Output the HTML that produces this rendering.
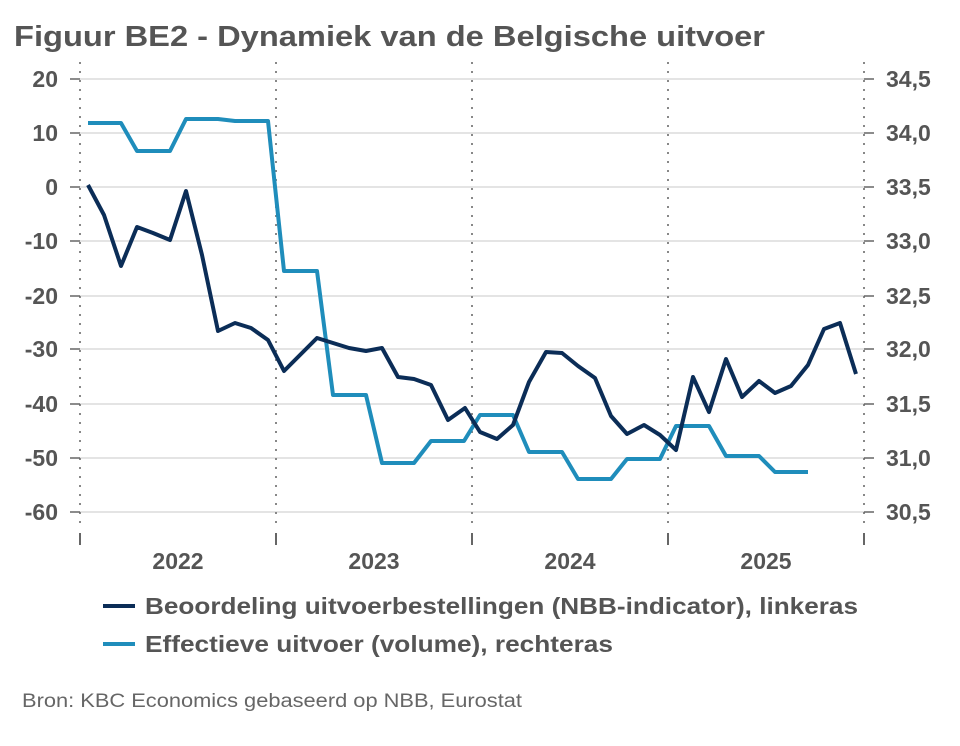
<!DOCTYPE html>
<html><head><meta charset="utf-8"><style>
body{margin:0;background:#fff;}
svg text{font-family:"Liberation Sans",sans-serif;}
</style></head><body>
<svg width="960" height="741" xmlns="http://www.w3.org/2000/svg">
<rect width="960" height="741" fill="#fff"/>
<text x="14" y="46" font-size="29" font-weight="bold" fill="#555" textLength="751" lengthAdjust="spacingAndGlyphs">Figuur BE2 - Dynamiek van de Belgische uitvoer</text>
<g stroke="#dcdcdc" stroke-width="1.5">
<line x1="80" x2="864" y1="79" y2="79"/><line x1="80" x2="864" y1="133" y2="133"/>
<line x1="80" x2="864" y1="187" y2="187"/><line x1="80" x2="864" y1="241" y2="241"/>
<line x1="80" x2="864" y1="296" y2="296"/><line x1="80" x2="864" y1="349" y2="349"/>
<line x1="80" x2="864" y1="404" y2="404"/><line x1="80" x2="864" y1="458" y2="458"/>
<line x1="80" x2="864" y1="512" y2="512"/>
</g>
<g stroke="#888" stroke-width="2" stroke-dasharray="2,7">
<line x1="80" x2="80" y1="62" y2="530"/><line x1="276" x2="276" y1="62" y2="530"/>
<line x1="472" x2="472" y1="62" y2="530"/><line x1="668" x2="668" y1="62" y2="530"/>
<line x1="864" x2="864" y1="62" y2="530"/>
</g>
<g stroke="#666" stroke-width="2">
<line x1="80" x2="80" y1="533" y2="545"/><line x1="276" x2="276" y1="533" y2="545"/>
<line x1="472" x2="472" y1="533" y2="545"/><line x1="668" x2="668" y1="533" y2="545"/>
<line x1="864" x2="864" y1="533" y2="545"/>
<g stroke-width="1.5">
<line x1="70" x2="80" y1="79" y2="79"/><line x1="70" x2="80" y1="133" y2="133"/><line x1="70" x2="80" y1="187" y2="187"/><line x1="70" x2="80" y1="241" y2="241"/><line x1="70" x2="80" y1="296" y2="296"/><line x1="70" x2="80" y1="349" y2="349"/><line x1="70" x2="80" y1="404" y2="404"/><line x1="70" x2="80" y1="458" y2="458"/><line x1="70" x2="80" y1="512" y2="512"/>
<line x1="864" x2="874" y1="79" y2="79"/><line x1="864" x2="874" y1="133" y2="133"/><line x1="864" x2="874" y1="187" y2="187"/><line x1="864" x2="874" y1="241" y2="241"/><line x1="864" x2="874" y1="296" y2="296"/><line x1="864" x2="874" y1="349" y2="349"/><line x1="864" x2="874" y1="404" y2="404"/><line x1="864" x2="874" y1="458" y2="458"/><line x1="864" x2="874" y1="512" y2="512"/>
</g></g>
<g font-size="23" font-weight="bold" fill="#555" text-anchor="end">
<text x="58" y="87">20</text><text x="58" y="141">10</text><text x="58" y="195">0</text><text x="58" y="249">-10</text><text x="58" y="304">-20</text><text x="58" y="357">-30</text><text x="58" y="412">-40</text><text x="58" y="466">-50</text><text x="58" y="520">-60</text>
</g>
<g font-size="23" font-weight="bold" fill="#555">
<text x="886" y="87">34,5</text><text x="886" y="141">34,0</text><text x="886" y="195">33,5</text><text x="886" y="249">33,0</text><text x="886" y="304">32,5</text><text x="886" y="357">32,0</text><text x="886" y="412">31,5</text><text x="886" y="466">31,0</text><text x="886" y="520">30,5</text>
</g>
<g font-size="23" font-weight="bold" fill="#555" text-anchor="middle">
<text x="178" y="569">2022</text><text x="374" y="569">2023</text><text x="570" y="569">2024</text><text x="766" y="569">2025</text>
</g>
<polyline fill="none" stroke="#1f8dbb" stroke-width="4" stroke-linejoin="round" points="88,123 121,123 137,151 170,151 186,119 218,119 235,121 268,121 284,271 317,271 333,395 366,395 382,463 414,463 431,441 464,441 480,415 513,415 529,452 562,452 578,479 611,479 627,459 660,459 676,426 709,426 726,456 759,456 775,472 808,472"/>
<polyline fill="none" stroke="#0b2d57" stroke-width="4" stroke-linejoin="round" points="88,185 104,215 121,266 137,227 153,233 170,240 186,191 202,255 218,331 235,323 251,328 268,340 284,371 300,355 317,338 333,343 349,348 366,351 382,348 398,377 414,379 431,385 448,420 465,408 480,432 497,439 513,425 529,382 546,352 562,353 578,366 595,378 611,416 627,434 644,425 660,435 676,450 693,377 709,412 726,359 742,397 759,381 775,393 791,386 808,365 824,329 840,323 856,374"/>
<line x1="103" x2="135" y1="606" y2="606" stroke="#0b2d57" stroke-width="4"/>
<line x1="103" x2="135" y1="644" y2="644" stroke="#1f8dbb" stroke-width="4"/>
<g font-size="23" font-weight="bold" fill="#555">
<text x="145" y="614" textLength="713" lengthAdjust="spacingAndGlyphs">Beoordeling uitvoerbestellingen (NBB-indicator), linkeras</text>
<text x="145" y="652" textLength="468" lengthAdjust="spacingAndGlyphs">Effectieve uitvoer (volume), rechteras</text>
</g>
<text x="22" y="707" font-size="19" fill="#666" textLength="500" lengthAdjust="spacingAndGlyphs">Bron: KBC Economics gebaseerd op NBB, Eurostat</text>
</svg>
</body></html>
